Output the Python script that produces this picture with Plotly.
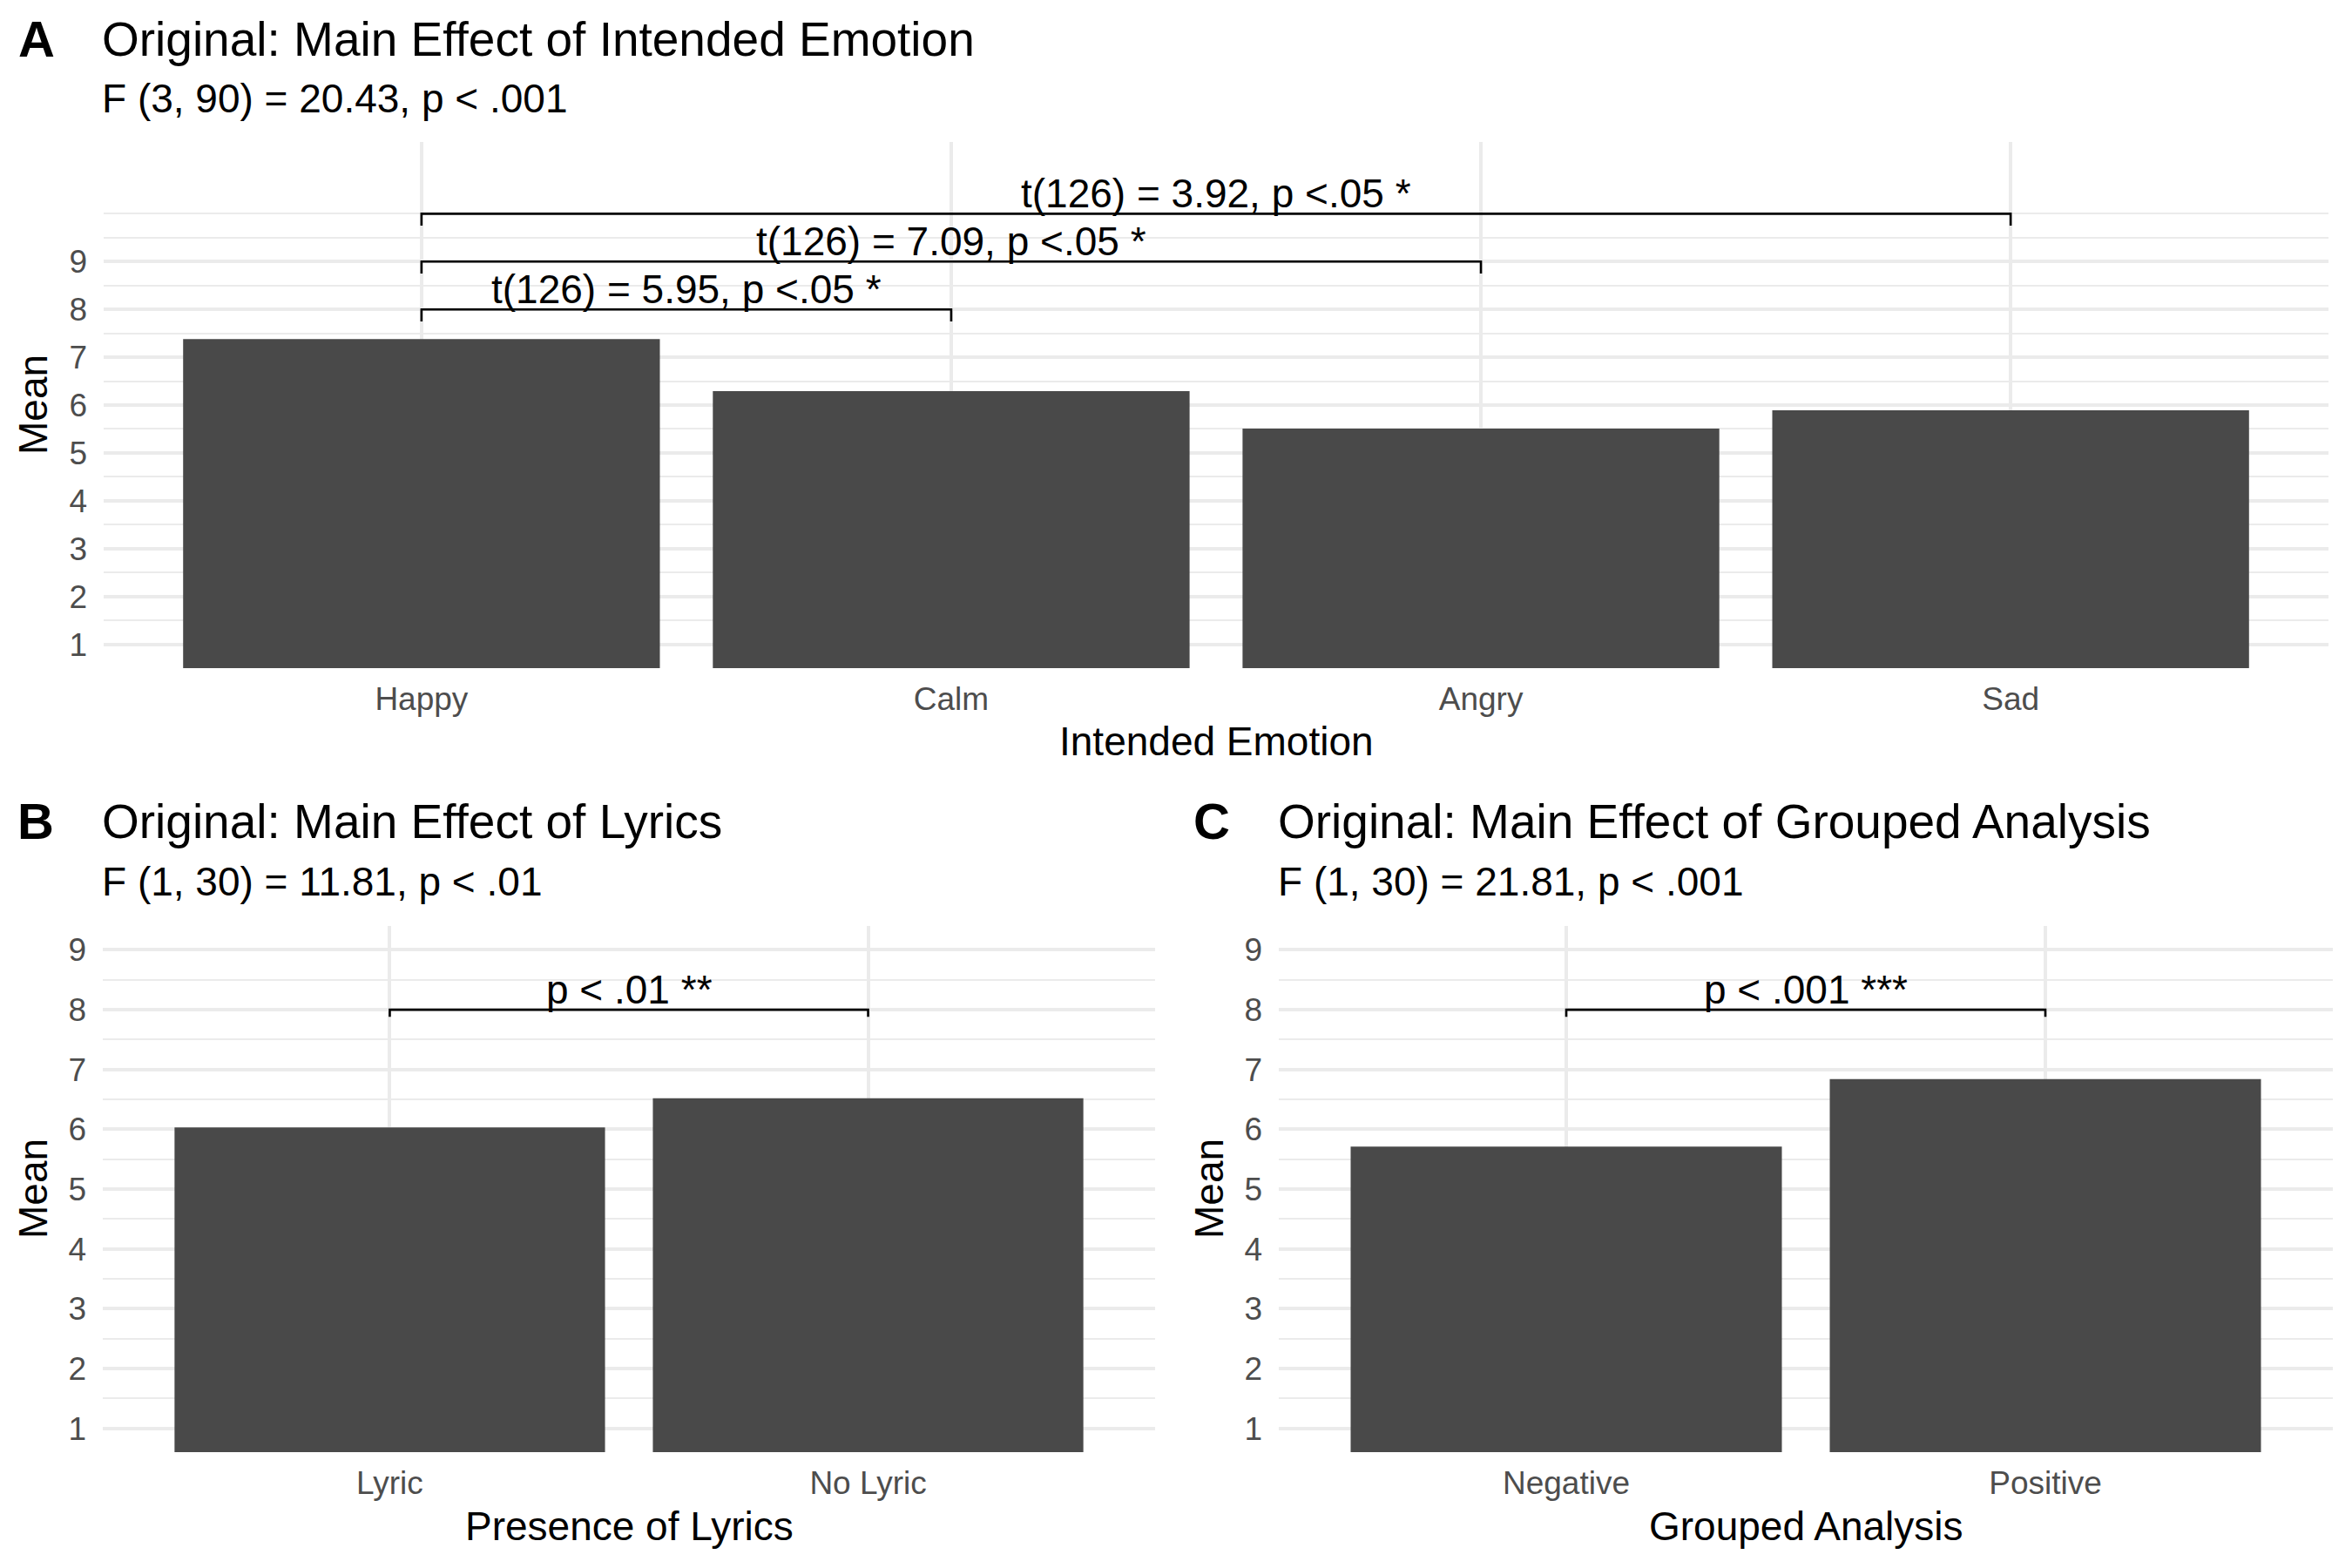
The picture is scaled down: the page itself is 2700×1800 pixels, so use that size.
import plotly.graph_objects as go

# ---------------- data ----------------
emotions = ["Happy", "Calm", "Angry", "Sad"]
emotion_means = [7.38, 6.29, 5.51, 5.89]
emotion_pairs = [("Happy", "Calm"), ("Happy", "Angry"), ("Happy", "Sad")]
emotion_pair_heights = [8, 9, 10]
emotion_pair_labels = ["t(126) = 5.95, p <.05 *", "t(126) = 7.09, p <.05 *", "t(126) = 3.92, p <.05 *"]

lyrics = ["Lyric", "No Lyric"]
lyric_means = [6.03, 6.52]
lyric_pairs = [("Lyric", "No Lyric")]
lyric_pair_heights = [8]
lyric_pair_labels = ["p < .01 **"]

groups = ["Negative", "Positive"]
group_means = [5.71, 6.84]
group_pairs = [("Negative", "Positive")]
group_pair_heights = [8]
group_pair_labels = ["p < .001 ***"]

y_ticks = [1, 2, 3, 4, 5, 6, 7, 8, 9]

# ---------------- style ----------------
W, H = 2700, 1800
FONT = "Liberation Sans"
BAR = "#494949"
GRID = "#EBEBEB"
TICKC = "#4D4D4D"


def fx(px):
    return px / W


def fy(py):
    return 1 - py / H


fig = go.Figure()

panels = [
    dict(ax="", cats=emotions, vals=emotion_means, pairs=emotion_pairs, hts=emotion_pair_heights,
         labs=emotion_pair_labels, tip=0.25, xdom=(119, 2673), ydom=(163, 767), yr=[0.5, 11.5],
         minor=[0.5, 1.5, 2.5, 3.5, 4.5, 5.5, 6.5, 7.5, 8.5, 9.5, 10]),
    dict(ax="2", cats=lyrics, vals=lyric_means, pairs=lyric_pairs, hts=lyric_pair_heights,
         labs=lyric_pair_labels, tip=0.12, xdom=(118, 1326), ydom=(1063, 1667), yr=[0.6, 9.4],
         minor=[1.5, 2.5, 3.5, 4.5, 5.5, 6.5, 7.5, 8.5]),
    dict(ax="3", cats=groups, vals=group_means, pairs=group_pairs, hts=group_pair_heights,
         labs=group_pair_labels, tip=0.12, xdom=(1468, 2678), ydom=(1063, 1667), yr=[0.6, 9.4],
         minor=[1.5, 2.5, 3.5, 4.5, 5.5, 6.5, 7.5, 8.5]),
]

annotations = []
for p in panels:
    xa, ya = "x" + p["ax"], "y" + p["ax"]
    fig.add_trace(go.Bar(x=p["cats"], y=p["vals"], width=0.9, marker=dict(color=BAR, line=dict(width=0)),
                         xaxis=xa, yaxis=ya, showlegend=False, hoverinfo="skip"))
    for (a, b), h, lab in zip(p["pairs"], p["hts"], p["labs"]):
        fig.add_trace(go.Scatter(x=[a, a, b, b], y=[h - p["tip"], h, h, h - p["tip"]], mode="lines",
                                 line=dict(color="black", width=2.6), xaxis=xa, yaxis=ya,
                                 showlegend=False, hoverinfo="skip", cliponaxis=False))
        mid = (p["cats"].index(a) + p["cats"].index(b)) / 2
        annotations.append(dict(x=mid, y=h, xref=xa, yref=ya, text=lab, showarrow=False,
                                xanchor="center", yanchor="bottom", yshift=-4, borderpad=0,
                                font=dict(family=FONT, size=46, color="black")))
    xkey = "xaxis" + p["ax"]
    ykey = "yaxis" + p["ax"]
    fig.layout[xkey] = dict(
        domain=[fx(p["xdom"][0]), fx(p["xdom"][1])], anchor=ya, type="category",
        categoryorder="array", categoryarray=p["cats"], range=[-0.6, len(p["cats"]) - 0.4],
        showgrid=True, gridcolor=GRID, gridwidth=4, zeroline=False, showline=False, ticks="",
        ticklabelstandoff=10, tickfont=dict(family=FONT, size=37, color=TICKC), fixedrange=True)
    fig.layout[ykey] = dict(
        domain=[fy(p["ydom"][1]), fy(p["ydom"][0])], anchor=xa, range=p["yr"],
        tickmode="array", tickvals=y_ticks, ticktext=[str(v) for v in y_ticks],
        showgrid=True, gridcolor=GRID, gridwidth=4.4, zeroline=False, showline=False, ticks="",
        ticklabelstandoff=18, tickfont=dict(family=FONT, size=37, color=TICKC),
        minor=dict(tickmode="array", tickvals=p["minor"], showgrid=True, gridcolor=GRID, gridwidth=2.2),
        fixedrange=True)


def text_ann(x, y, text, size, bold=False, xanchor="left", angle=0):
    t = "<b>" + text + "</b>" if bold else text
    return dict(x=fx(x), y=fy(y), xref="paper", yref="paper", text=t, showarrow=False,
                xanchor=xanchor, yanchor="middle", textangle=angle, borderpad=0,
                font=dict(family=FONT, size=size, color="black"))


# panel labels, titles, subtitles
annotations += [
    text_ann(42, 44, "A", 58, bold=True, xanchor="center"),
    text_ann(116, 45, "Original: Main Effect of Intended Emotion", 55),
    text_ann(116, 113, "F (3, 90) = 20.43, p < .001", 46),
    text_ann(41, 943, "B", 58, bold=True, xanchor="center"),
    text_ann(116, 943, "Original: Main Effect of Lyrics", 55),
    text_ann(116, 1012, "F (1, 30) = 11.81, p < .01", 46),
    text_ann(1391, 943, "C", 58, bold=True, xanchor="center"),
    text_ann(1466, 943, "Original: Main Effect of Grouped Analysis", 55),
    text_ann(1466, 1012, "F (1, 30) = 21.81, p < .001", 46),
    # axis titles
    text_ann(1396, 851, "Intended Emotion", 46, xanchor="center"),
    text_ann(722, 1752, "Presence of Lyrics", 46, xanchor="center"),
    text_ann(2073, 1752, "Grouped Analysis", 46, xanchor="center"),
    text_ann(38, 465, "Mean", 46, xanchor="center", angle=-90),
    text_ann(38, 1365, "Mean", 46, xanchor="center", angle=-90),
    text_ann(1388, 1365, "Mean", 46, xanchor="center", angle=-90),
]

fig.update_layout(
    width=W, height=H, margin=dict(l=0, r=0, t=0, b=0, pad=0),
    paper_bgcolor="white", plot_bgcolor="white",
    font=dict(family=FONT, color="black"),
    annotations=annotations, showlegend=False, bargap=0.1,
)

fig.write_html("out.html")
